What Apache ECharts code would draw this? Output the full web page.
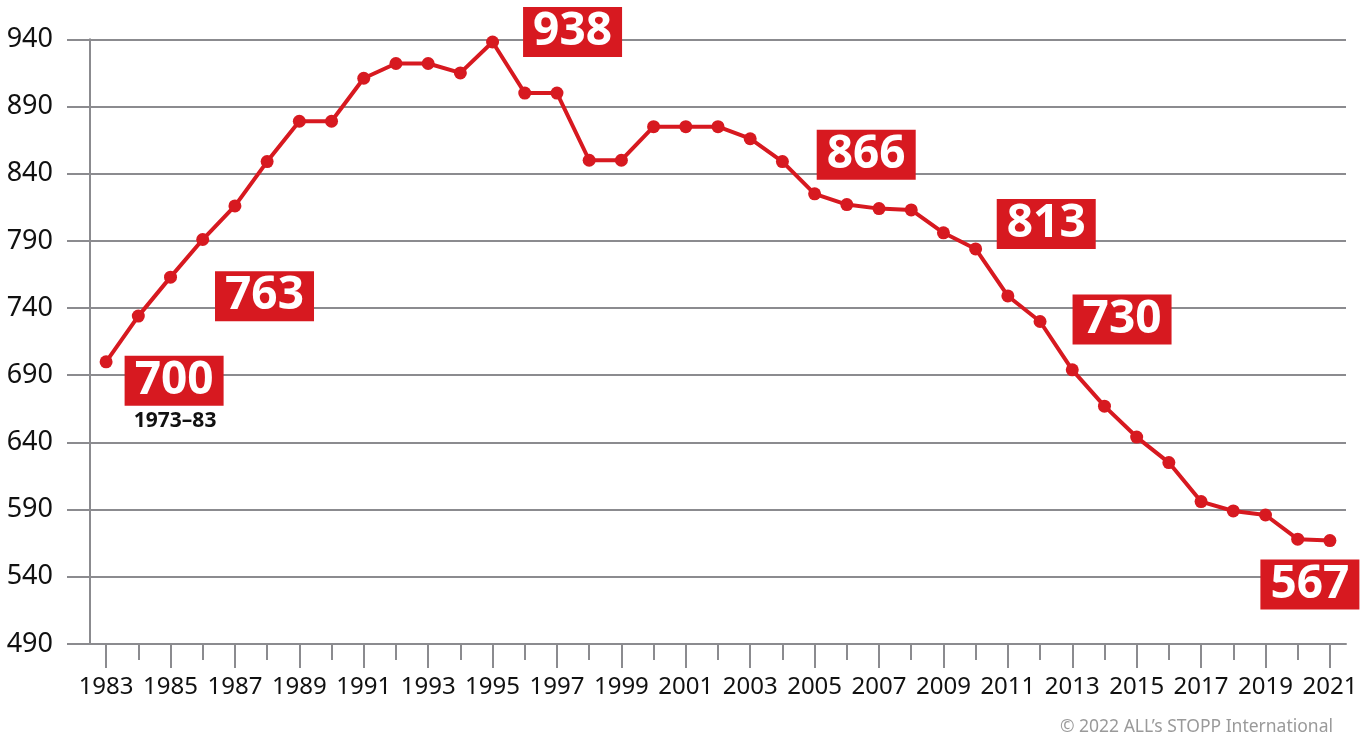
<!DOCTYPE html>
<html>
<head>
<meta charset="utf-8">
<style>html,body{margin:0;padding:0;background:#fff;}#chart{width:1372px;height:740px;}</style>
<script src="https://cdn.jsdelivr.net/npm/echarts@6/dist/echarts.min.js"></script>
</head>
<body>
<div id="chart"></div>
<script>
// ---- data ----
const years = ['1983','1984','1985','1986','1987','1988','1989','1990','1991','1992','1993','1994','1995','1996','1997','1998','1999','2000','2001','2002','2003','2004','2005','2006','2007','2008','2009','2010','2011','2012','2013','2014','2015','2016','2017','2018','2019','2020','2021'];
const values = [700,734,763,791,816,849,879,879,911,922,922,915,938,900,900,850,850,875,875,875,866,849,825,817,814,813,796,784,749,730,694,667,644,625,596,589,586,568,567];
const calloutYears = ['1983','1985','1995','2003','2008','2012','2021'];
const calloutValues = [700,763,938,866,813,730,567];
const subNoteYear = '1983';
const subNoteValue = 700;
const subNoteText = '1973–83';
const yTicks = {min: 490, max: 940, step: 50};
const copyright = '© 2022 ALL’s STOPP International';

// ---- layout (positions only) ----
const calloutOffsets = [[68,19],[94,19],[80,-10],[116,16],[135,14],[82,-2],[-20,44]];
const subNoteOffset = [69,59];

const RED = '#d71920';
const GRID = '#8b8b8f';

const markData = calloutYears.map((y,i)=>({
  coord:[y, calloutValues[i]], value: calloutValues[i],
  symbol:'rect', symbolSize:[99,50], symbolOffset: calloutOffsets[i],
  itemStyle:{color:RED},
  label:{show:true, position:'inside', formatter:'{c}', color:'#fff', fontSize:46, fontWeight:'bold', fontFamily:'Noto Sans'}
}));
markData.push({
  coord:[subNoteYear, subNoteValue], value: subNoteValue,
  symbol:'rect', symbolSize:[1,1], symbolOffset: subNoteOffset,
  itemStyle:{color:'rgba(0,0,0,0)'},
  label:{show:true, position:'inside', formatter: subNoteText, color:'#111', fontSize:21, fontWeight:'bold', fontFamily:'Noto Sans'}
});

const chart = echarts.init(document.getElementById('chart'), null, {renderer:'canvas'});
chart.setOption({
  animation:false,
  backgroundColor:'#fff',
  grid:{left:90, right:26, top:39.3, bottom:96, containLabel:false},
  xAxis:[{
    type:'category', data: years, boundaryGap:true, position:'bottom',
    axisLine:{show:true, lineStyle:{color:GRID, width:2}},
    axisTick:{show:true, alignWithLabel:true, interval:0, length:16, lineStyle:{color:GRID, width:2}},
    axisLabel:{show:false}
  },{
    type:'category', data: years, boundaryGap:true, position:'bottom',
    axisLine:{show:false},
    axisTick:{show:true, alignWithLabel:true, interval:1, length:24, lineStyle:{color:GRID, width:2}},
    axisLabel:{show:true, interval:1, margin:31, color:'#111', fontSize:24, fontFamily:'Noto Sans'}
  }],
  yAxis:{
    type:'value', min:yTicks.min, max:yTicks.max, interval:yTicks.step,
    axisLine:{show:true, lineStyle:{color:GRID, width:2}},
    axisTick:{show:true, length:23, lineStyle:{color:GRID, width:2}},
    splitLine:{show:true, lineStyle:{color:GRID, width:2}},
    axisLabel:{margin:37, color:'#111', fontSize:27, fontFamily:'Noto Sans'}
  },
  graphic:[{
    type:'text', right:39, bottom:4,
    style:{text: copyright, fill:'#9a9a9a', fontSize:17.5, fontFamily:'Noto Sans'}
  }],
  series:[{
    type:'line', data: values, xAxisIndex:0,
    symbol:'circle', symbolSize:13, showAllSymbol:true,
    lineStyle:{color:RED, width:4}, itemStyle:{color:RED},
    z:3,
    markPoint:{data: markData, z:5, animation:false}
  }]
});
</script>
</body>
</html>
